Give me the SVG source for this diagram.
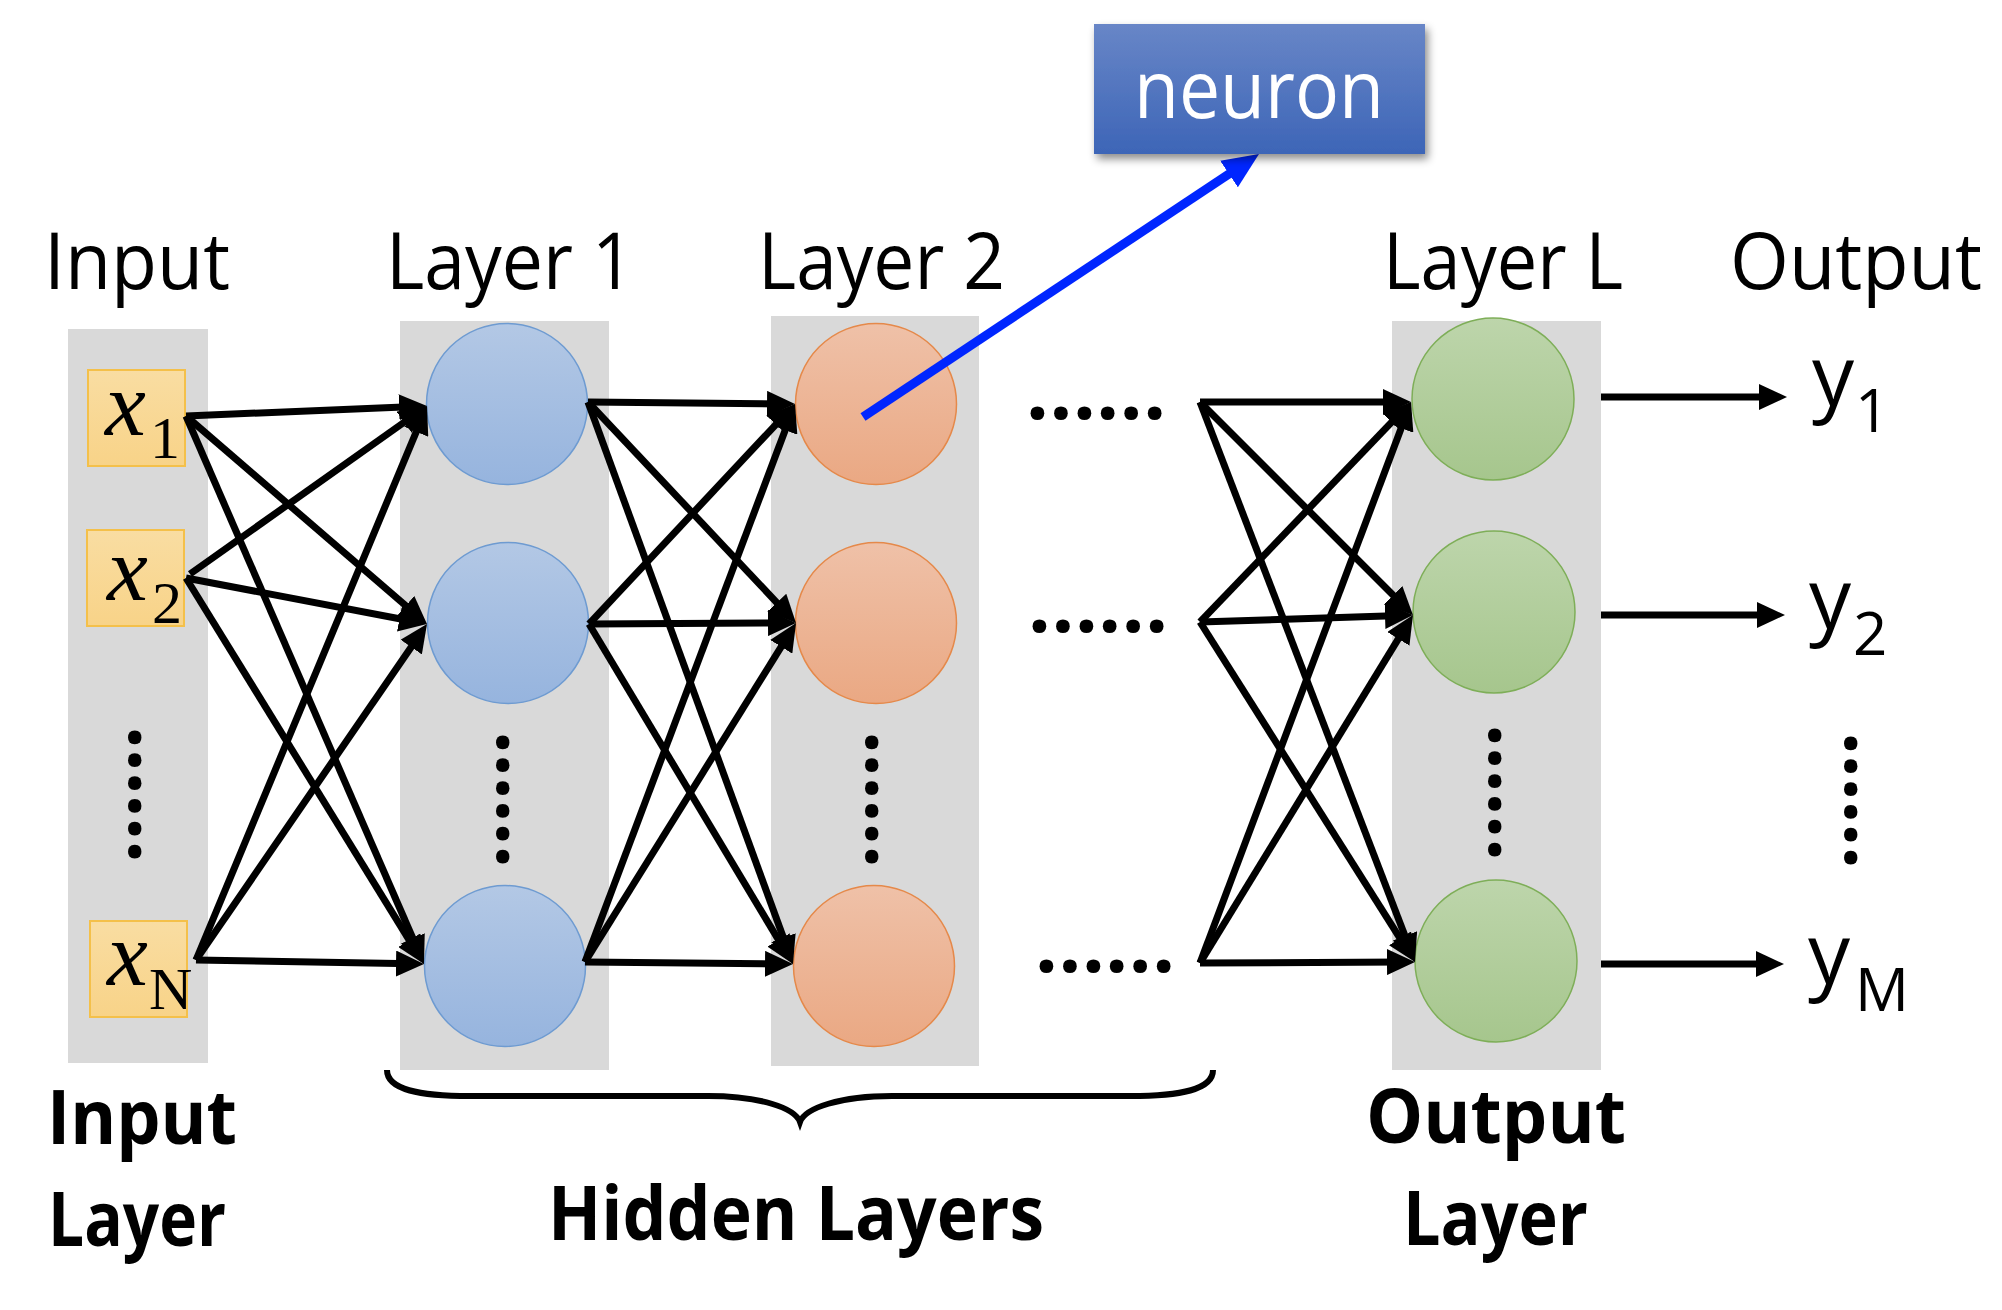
<svg xmlns="http://www.w3.org/2000/svg" width="2002" height="1310" viewBox="0 0 2002 1310">
<defs>
<style>
.col{fill:#D9D9D9}
.lbl{font-family:"Open Sans","DejaVu Sans",sans-serif;font-size:78px;fill:#000}
.blbl{font-family:"Open Sans","DejaVu Sans",sans-serif;font-size:76px;font-weight:bold;fill:#000}
.dots{font-family:"Open Sans","DejaVu Sans",sans-serif;font-size:80px;font-weight:bold;fill:#000}
.mx{font-family:"Liberation Serif","Times New Roman",serif;font-style:italic;font-size:92px;fill:#000}
.ms{font-family:"Liberation Serif","Times New Roman",serif;font-size:60px;fill:#000}
.ylab{font-family:"Open Sans","DejaVu Sans",sans-serif;font-size:84px;fill:#000}
.ysub{font-family:"Open Sans","DejaVu Sans",sans-serif;font-size:60px;fill:#000}
.xin{fill:url(#gY);stroke:#F4C04A;stroke-width:2}
.n1{fill:url(#gB);stroke:#6E9BD1;stroke-width:1.5}
.n2{fill:url(#gO);stroke:#E5894A;stroke-width:1.5}
.nL{fill:url(#gG);stroke:#7EAE58;stroke-width:1.5}
.conn line{stroke:#000;stroke-width:7;fill:none;marker-end:url(#ah)}
</style>
<linearGradient id="gY" x1="0" y1="0" x2="0" y2="1"><stop offset="0" stop-color="#F9DDA2"/><stop offset="1" stop-color="#F8D388"/></linearGradient>
<linearGradient id="gB" x1="0" y1="0" x2="0" y2="1"><stop offset="0" stop-color="#B3C8E5"/><stop offset="1" stop-color="#96B4DE"/></linearGradient>
<linearGradient id="gO" x1="0" y1="0" x2="0" y2="1"><stop offset="0" stop-color="#EFC1A8"/><stop offset="1" stop-color="#EAA883"/></linearGradient>
<linearGradient id="gG" x1="0" y1="0" x2="0" y2="1"><stop offset="0" stop-color="#BDD5AB"/><stop offset="1" stop-color="#A6C68D"/></linearGradient>
<linearGradient id="gN" x1="0" y1="0" x2="0" y2="1"><stop offset="0" stop-color="#6886C7"/><stop offset="1" stop-color="#3D65B7"/></linearGradient>
<filter id="sh" x="-10%" y="-20%" width="130%" height="150%"><feDropShadow dx="3" dy="5" stdDeviation="4" flood-color="#000" flood-opacity="0.45"/></filter>
<marker id="ah" markerUnits="userSpaceOnUse" markerWidth="28" markerHeight="26" viewBox="0 0 28 26" refX="16" refY="13" orient="auto"><path d="M0,0 L28,13 L0,26 Z" fill="#000"/></marker>
<marker id="ahb" markerUnits="userSpaceOnUse" markerWidth="36" markerHeight="32" viewBox="0 0 36 32" refX="18" refY="16" orient="auto"><path d="M0,0 L36,16 L0,32 Z" fill="#0026FF"/></marker>
</defs>

<!-- layer columns -->
<g id="columns">
<rect class="col" x="68" y="329" width="140" height="734"/>
<rect class="col" x="400" y="321" width="209" height="749"/>
<rect class="col" x="771" y="316" width="208" height="750"/>
<rect class="col" x="1392" y="321" width="209" height="749"/>
</g>

<!-- top labels -->
<g id="top-labels">
<text class="lbl" x="44" y="289" textLength="186" lengthAdjust="spacingAndGlyphs">Input</text>
<text class="lbl" x="386" y="289" textLength="248" lengthAdjust="spacingAndGlyphs">Layer 1</text>
<text class="lbl" x="758" y="289" textLength="247" lengthAdjust="spacingAndGlyphs">Layer 2</text>
<text class="lbl" x="1383" y="289" textLength="240" lengthAdjust="spacingAndGlyphs">Layer L</text>
<text class="lbl" x="1730" y="289" textLength="252" lengthAdjust="spacingAndGlyphs">Output</text>
</g>

<!-- input nodes -->
<g id="x1"><rect class="xin" x="88" y="370" width="97" height="96"/><text class="mx" x="105" y="435">x</text><text class="ms" x="150" y="458">1</text></g>
<g id="x2"><rect class="xin" x="87" y="530" width="97" height="96"/><text class="mx" x="107" y="600">x</text><text class="ms" x="152" y="623">2</text></g>
<g id="xN"><rect class="xin" x="90" y="921" width="97" height="96"/><text class="mx" x="107" y="985">x</text><text class="ms" x="149" y="1009">N</text></g>

<!-- layer 1 -->
<g id="h1-1"><circle class="n1" cx="507" cy="404" r="80.5"/></g>
<g id="h1-2"><circle class="n1" cx="508" cy="623" r="80.5"/></g>
<g id="h1-3"><circle class="n1" cx="505" cy="966" r="80.5"/></g>
<!-- layer 2 -->
<g id="h2-1"><circle class="n2" cx="876" cy="404" r="80.5"/></g>
<g id="h2-2"><circle class="n2" cx="876" cy="623" r="80.5"/></g>
<g id="h2-3"><circle class="n2" cx="874" cy="966" r="80.5"/></g>
<!-- layer L -->
<g id="hL-1"><circle class="nL" cx="1493" cy="399" r="81"/></g>
<g id="hL-2"><circle class="nL" cx="1494" cy="612" r="81"/></g>
<g id="hL-3"><circle class="nL" cx="1496" cy="961" r="81"/></g>

<!-- ellipsis dots -->
<g id="dots">
<text class="dots" transform="translate(129,726) rotate(90)" textLength="137" lengthAdjust="spacing">......</text>
<text class="dots" transform="translate(497,731) rotate(90)" textLength="137" lengthAdjust="spacing">......</text>
<text class="dots" transform="translate(866,731) rotate(90)" textLength="137" lengthAdjust="spacing">......</text>
<text class="dots" transform="translate(1489,724) rotate(90)" textLength="137" lengthAdjust="spacing">......</text>
<text class="dots" transform="translate(1845,732) rotate(90)" textLength="137" lengthAdjust="spacing">......</text>
<text class="dots" x="1026" y="419" textLength="140" lengthAdjust="spacing">......</text>
<text class="dots" x="1028" y="632" textLength="140" lengthAdjust="spacing">......</text>
<text class="dots" x="1035" y="972" textLength="140" lengthAdjust="spacing">......</text>
</g>

<!-- connectors -->
<g id="connectors" class="conn">
<line x1="186" y1="416" x2="415" y2="406.5"/>
<line x1="186" y1="416" x2="417.9" y2="616.2"/>
<line x1="186" y1="416" x2="419.2" y2="953"/>
<line x1="190" y1="574" x2="417.2" y2="413"/>
<line x1="186" y1="578" x2="415.2" y2="621.8"/>
<line x1="186" y1="578" x2="417.7" y2="953.8"/>
<line x1="196" y1="960" x2="422.4" y2="417.1"/>
<line x1="196" y1="960" x2="420.2" y2="633.9"/>
<line x1="196" y1="960" x2="412" y2="963.8"/>

<line x1="588" y1="402" x2="783" y2="404"/>
<line x1="588" y1="402" x2="787.8" y2="614.3"/>
<line x1="588" y1="402" x2="788.9" y2="952.7"/>
<line x1="589" y1="624" x2="786.8" y2="412.8"/>
<line x1="589" y1="624" x2="784" y2="623"/>
<line x1="589" y1="624" x2="786.8" y2="953.7"/>
<line x1="585" y1="962" x2="790.8" y2="415.2"/>
<line x1="585" y1="962" x2="789.7" y2="633.2"/>
<line x1="585" y1="962" x2="781" y2="964"/>

<line x1="1200" y1="402" x2="1399" y2="402"/>
<line x1="1200" y1="402" x2="1404.5" y2="606.5"/>
<line x1="1200" y1="402" x2="1410.7" y2="950.8"/>
<line x1="1200" y1="622" x2="1402.7" y2="410.7"/>
<line x1="1200" y1="622" x2="1401" y2="615.4"/>
<line x1="1200" y1="622" x2="1408.6" y2="951.9"/>
<line x1="1200" y1="963" x2="1406.8" y2="413.2"/>
<line x1="1200" y1="963" x2="1406.7" y2="625.2"/>
<line x1="1200" y1="963" x2="1403" y2="962"/>

<line x1="1601" y1="397" x2="1775" y2="397"/>
<line x1="1601" y1="615" x2="1773" y2="615"/>
<line x1="1601" y1="964" x2="1772" y2="964"/>

<line x1="863" y1="417" x2="1244" y2="164" style="stroke:#0026FF;stroke-width:9;marker-end:url(#ahb)"/>
</g>

<!-- outputs -->
<g id="y1"><text class="ylab" x="1812" y="406">y</text><text class="ysub" x="1855" y="432">1</text></g>
<g id="y2"><text class="ylab" x="1809" y="629">y</text><text class="ysub" x="1853" y="655">2</text></g>
<g id="yM"><text class="ylab" x="1808" y="984">y</text><text class="ysub" x="1855" y="1011">M</text></g>

<!-- neuron callout -->
<g id="neuron">
<rect x="1094" y="24" width="331" height="130" fill="url(#gN)" filter="url(#sh)"/>
<text x="1134" y="118" font-family="'Open Sans','DejaVu Sans',sans-serif" font-size="80" fill="#FFFFFF" textLength="250" lengthAdjust="spacingAndGlyphs">neuron</text>
</g>

<!-- brace -->
<g id="brace">
<path d="M387,1070 C387,1090 420,1096 470,1096 L708,1096 C760,1096 795,1108 800,1122 C805,1108 840,1096 892,1096 L1130,1096 C1180,1096 1213,1090 1213,1070" fill="none" stroke="#000" stroke-width="6"/>
</g>

<!-- bottom labels -->
<g id="bottom-labels">
<text class="blbl" x="47" y="1144" textLength="190" lengthAdjust="spacingAndGlyphs">Input</text>
<text class="blbl" x="48" y="1246" textLength="178" lengthAdjust="spacingAndGlyphs">Layer</text>
<text class="blbl" x="548" y="1240" textLength="496" lengthAdjust="spacingAndGlyphs">Hidden Layers</text>
<text class="blbl" x="1366" y="1143" textLength="260" lengthAdjust="spacingAndGlyphs">Output</text>
<text class="blbl" x="1403" y="1245" textLength="185" lengthAdjust="spacingAndGlyphs">Layer</text>
</g>
</svg>
